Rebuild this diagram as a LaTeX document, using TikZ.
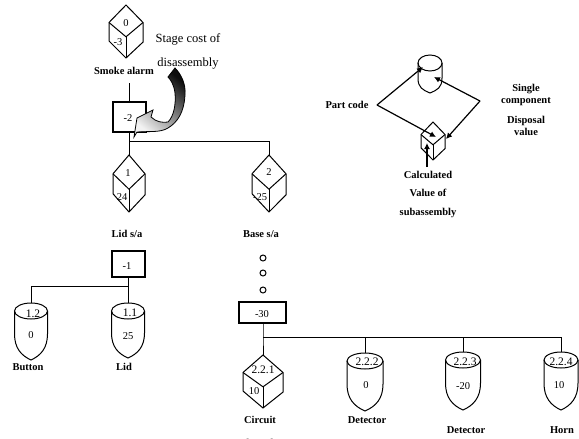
\documentclass[tikz,border=0pt]{standalone}
\usepackage{fontspec}
\setmainfont{Liberation Serif}
\usepackage{tikz}
\usetikzlibrary{arrows.meta, positioning, calc}

\tikzset{
  partline/.style={line width=1pt},
  joinline/.style={line width=1pt},
  valuebox/.style={draw, line width=1.7pt, inner sep=0pt},
  partanchor/.style={inner sep=0pt, minimum size=0pt},
  parttext/.style={font=\fontsize{10.5}{12}\selectfont, inner sep=0pt},
  codetext/.style={font=\fontsize{11.5}{13}\selectfont, inner sep=0pt},
  captext/.style={font=\fontsize{10.5}{12}\selectfont\bfseries, inner sep=0pt},
  bigtext/.style={font=\fontsize{12.5}{14}\selectfont, inner sep=0pt},
  dotmark/.style={draw, circle, line width=1pt, minimum size=6pt, inner sep=0pt},
  legendarrow/.style={line width=1.2pt, -{Latex[length=6pt, width=6pt]}}
}

% cube: name, x, y of top corner, half width, height
\newcommand{\cubepart}[5]{
  \node[partanchor] (#1) at (#2,#3) {};
  \draw[partline] (#1.center) -- ++(-#4,0.33*#5) -- ++(0,0.35*#5) -- ($(#1.center)+(0,#5)$)
    -- ++(#4,-0.3*#5) -- ++(0,-0.37*#5) -- cycle;
  \draw[partline] ($(#1.center)+(-#4,0.33*#5)$) -- ($(#1.center)+(0,0.6*#5)$)
    -- ($(#1.center)+(#4,0.33*#5)$);
  \draw[partline] ($(#1.center)+(0,0.6*#5)$) -- ($(#1.center)+(0,#5)$);
}
% can: name, x, y of top point, half width, height
\newcommand{\canpart}[5]{
  \node[partanchor] (#1) at (#2,#3) {};
  \draw[partline] ($(#1.center)+(0,8)$) ellipse [x radius=#4, y radius=8];
  \draw[partline] ($(#1.center)+(-#4,8)$) -- ++(0,0.4*#5)
    .. controls +(0,0.25*#5) and +(-0.6*#4,-0.08*#5) .. ($(#1.center)+(0,#5)$)
    .. controls +(0.6*#4,-0.08*#5) and +(0,0.25*#5) .. ($(#1.center)+(#4,8+0.4*#5)$)
    -- ++(0,-0.4*#5);
}

\begin{document}
\begin{tikzpicture}[x=1pt, y=-1pt]
  \useasboundingbox (0,0) rectangle (579,439);

  % top of the tree
  \cubepart{alarm}{126}{5}{17}{53}
  \node[parttext] (alarmtop) at (126,23) {0};
  \node[parttext] (alarmval) at (118,42) {-3};
  \node[captext] (alarmcap) at (124,71) {Smoke alarm};
  \node[bigtext] (stagea) at (188,39) {Stage cost of};
  \node[bigtext] (stageb) at (188,64) {disassembly};
  \coordinate (alarmfoot) at (129,83);
  \node[valuebox, minimum width=33pt, minimum height=30pt] (costa) at (129.5,117) {};
  \node[parttext] (costatext) at (128,118) {-2};
  \draw[joinline] (alarmfoot) -- (costa.north -| alarmfoot);

  % curved arrow
  \path[draw, line width=0.8pt, top color=black!95, bottom color=black!5, shading angle=-40]
    (175,68) .. controls (181,74) and (186,84) .. (185,95)
    .. controls (184,112) and (178,122) .. (168,128)
    .. controls (160,133) and (148,131) .. (137,132)
    -- (134,137) -- (137,118) -- (153,110) -- (151,117)
    .. controls (156,122) and (163,123) .. (168,122)
    .. controls (174,116) and (176,104) .. (175,93)
    .. controls (174,85) and (171,80) .. (168,77) -- cycle;

  % sub-assemblies
  \cubepart{lidsa}{129}{155}{16}{57}
  \cubepart{basesa}{269}{155}{17}{57}
  \coordinate (lidjoin) at (129,141);
  \coordinate (basejoin) at (269,141);
  \draw[joinline] (costa.south -| lidjoin) -- (lidsa.center);
  \draw[joinline] (lidjoin) -- (basejoin) -- (basesa.center);
  \node[parttext] (lidtop) at (128,173) {1};
  \node[parttext] (lidval) at (122,197) {24};
  \node[parttext] (basetop) at (269,172) {2};
  \node[parttext] (baseval) at (260,197) {-25};
  \node[captext] (lidcap) at (127,234) {Lid s/a};
  \node[captext] (basecap) at (261,234) {Base s/a};

  % lid branch
  \node[valuebox, minimum width=33pt, minimum height=26pt] (costb) at (128.5,264) {};
  \node[parttext] (costbtext) at (127,266) {-1};
  \canpart{button}{31}{303}{16.5}{57}
  \canpart{lid}{128}{303}{16.5}{55}
  \coordinate (buttonjoin) at (31,286);
  \coordinate (lidpartjoin) at (128,286);
  \draw[joinline] (costb.south -| lid) -- (lid.center);
  \draw[joinline] (lidpartjoin) -- (buttonjoin) -- (button.center);
  \node[codetext] (buttontop) at (33,314) {1.2};
  \node[parttext] (buttonval) at (31,335) {0};
  \node[captext] (buttoncap) at (28,367) {Button};
  \node[codetext] (lidptop) at (130,313) {1.1};
  \node[parttext] (lidpval) at (128,336) {25};
  \node[captext] (lidpcap) at (124,367) {Lid};

  % base branch
  \foreach \i/\y in {1/258,2/273,3/290} {
    \node[dotmark] (gap\i) at (263,\y) {};
  }
  \node[valuebox, minimum width=47pt, minimum height=21pt] (costc) at (262.5,312.5) {};
  \node[parttext] (costctext) at (262,314) {-30};
  \cubepart{circuit}{263}{355}{20}{53}
  \canpart{detone}{365}{353}{18}{58}
  \canpart{dettwo}{463}{352}{17.5}{58}
  \canpart{horn}{561}{352}{17}{58}
  \coordinate (circjoin) at (263,337);
  \coordinate (detonejoin) at (365,337);
  \coordinate (dettwojoin) at (463,337);
  \coordinate (hornjoin) at (561,337);
  \draw[joinline] (costc.south -| circjoin) -- (circjoin) -- (circuit.center);
  \draw[joinline] (circjoin) -- (hornjoin) -- (horn.center);
  \draw[joinline] (detonejoin) -- (detone.center);
  \draw[joinline] (dettwojoin) -- (dettwo.center);
  \node[codetext] (circtop) at (263,370) {2.2.1};
  \node[parttext] (circval) at (254,391) {10};
  \node[captext] (circcap) at (260,420) {Circuit};
  \node[captext] (boardcap) at (260,443) {board};
  \node[codetext] (detonetop) at (367,362) {2.2.2};
  \node[parttext] (detoneval) at (366,385) {0};
  \node[captext] (detonecap) at (367,420) {Detector};
  \node[codetext] (dettwotop) at (465,362) {2.2.3};
  \node[parttext] (dettwoval) at (463,386) {-20};
  \node[captext] (dettwocap) at (466,430) {Detector};
  \node[codetext] (horntop) at (561,362) {2.2.4};
  \node[parttext] (hornval) at (559,385) {10};
  \node[captext] (horncap) at (562,430) {Horn};

  % legend
  \canpart{legcan}{430}{55}{12}{38}
  \cubepart{legcube}{433}{122}{12}{38}
  \coordinate (codetip) at (377,105);
  \coordinate (valuetip) at (480,101);
  \coordinate (calcfoot) at (427,167);
  \coordinate (calchead) at (427,143);
  \coordinate (codecan) at (423,67);
  \coordinate (codecube) at (436,137);
  \coordinate (valuecan) at (434,77);
  \coordinate (valuecube) at (446,139);
  \draw[legendarrow] (codetip) -- (codecan);
  \draw[legendarrow] (codetip) -- (codecube);
  \draw[legendarrow] (valuetip) -- (valuecan);
  \draw[legendarrow] (valuetip) -- (valuecube);
  \draw[legendarrow] (calcfoot) -- (calchead);
  \node[captext] (codecap) at (347,105) {Part code};
  \node[captext] (singlecap) at (526,89) {Single};
  \node[captext] (compcap) at (526,102) {component};
  \node[captext] (dispcap) at (526,121) {Disposal};
  \node[captext] (valcap) at (526,132) {value};
  \node[captext] (calccap) at (428,175) {Calculated};
  \node[captext] (valofcap) at (428,193) {Value of};
  \node[captext] (subcap) at (428,213) {subassembly};
\end{tikzpicture}
\end{document}
